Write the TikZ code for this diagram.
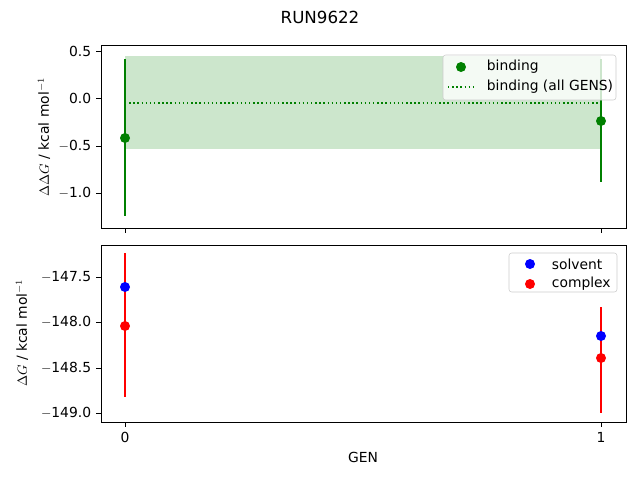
\documentclass[tikz,border=0pt]{standalone}
\usepackage{fontspec}
\setmainfont{DejaVu Sans}
\definecolor{mgreen}{RGB}{0,128,0}
\definecolor{band}{RGB}{204,230,204}
\begin{document}
\fontsize{10.4}{12}\selectfont
\begin{tikzpicture}[x=0.75pt, y=-0.75pt,
  tick/.style={draw=none, fill=none},
  dot/.style={circle, inner sep=0pt, minimum size=7.5pt},
  errbar/.style={line width=1.1pt},
  legbox/.style={draw=black!20, fill=white, fill opacity=0.8, text opacity=1, rounded corners=2pt}]

\useasboundingbox (0,0) rectangle (640,480);

% title
\node (title) at (320,17) {\fontsize{12.5}{14}\selectfont RUN9622};

% top panel: band and average
\fill[band] (125,56) rectangle (601,149);
\draw[mgreen, dotted, line width=1.1pt] (125,103) -- (601,103);

% top panel: error bars and points
\draw[mgreen, errbar] (125,59) -- (125,216);
\draw[mgreen, errbar] (601,59) -- (601,182);
\node[dot, fill=mgreen] (b0) at (125,138) {};
\node[dot, fill=mgreen] (b1) at (601,121) {};

% top panel: frame
\draw (101,45) rectangle (626,228);
\foreach \yy/\lab in {51/0.5, 98/0.0, 146/{$-$0.5}, 193/{$-$1.0}}
  \draw (101,\yy) -- (96,\yy) node[tick, anchor=east] {\lab};
\foreach \xx in {125,601}
  \draw (\xx,228) -- (\xx,233);
\node[rotate=90] (ylabtop) at (44,137) {$\Delta\Delta G$ / kcal mol$^{-1}$};

% top panel: legend
\draw[legbox] (443,55) rectangle (616,100);
\node[dot, fill=mgreen] (lb) at (461,67) {};
\node[anchor=west] (lbt) at (482,67) {binding};
\draw[mgreen, dotted, line width=1.1pt] (448,87) -- (474,87);
\node[anchor=west] (lat) at (482,87) {binding (all GENS)};

% bottom panel: error bars and points
\draw[red, errbar] (125,253) -- (125,397);
\draw[red, errbar] (601,307) -- (601,413);
\node[dot, fill=blue] (s0) at (125,287) {};
\node[dot, fill=blue] (s1) at (601,336) {};
\node[dot, fill=red] (c0) at (125,326) {};
\node[dot, fill=red] (c1) at (601,358) {};

% bottom panel: frame
\draw (101,245) rectangle (626,422);
\foreach \yy/\lab in {277/{$-$147.5}, 322/{$-$148.0}, 368/{$-$148.5}, 413/{$-$149.0}}
  \draw (101,\yy) -- (96,\yy) node[tick, anchor=east] {\lab};
\foreach \xx/\lab in {125/0, 601/1}
  \draw (\xx,422) -- (\xx,427) node[tick, anchor=north] {\lab};
\node[rotate=90] (ylabbot) at (22,333) {$\Delta G$ / kcal mol$^{-1}$};
\node (xlab) at (363,457) {GEN};

% bottom panel: legend
\draw[legbox] (509,253) rectangle (617,292);
\node[dot, fill=blue] (ls) at (530,264) {};
\node[anchor=west] (lst) at (547,264) {solvent};
\node[dot, fill=red] (lc) at (530,284) {};
\node[anchor=west] (lct) at (547,284) {complex};

\end{tikzpicture}
\end{document}
